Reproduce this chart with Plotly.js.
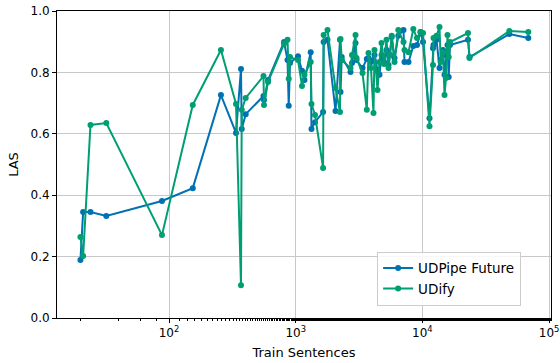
<!DOCTYPE html>
<html>
<head>
<meta charset="utf-8">
<script src="https://cdn.plot.ly/plotly-3.0.1.min.js"></script>
<style>
  html, body { margin: 0; padding: 0; background: #fff; }
  #chart { width: 560px; height: 363px; }
</style>
</head>
<body>
<div id="chart"></div>
<script>
// Training set size (sentences) per treebank, sorted ascending
const trainSentences = [
  20, 21, 24, 32, 88, 154, 257, 338, 370, 375,
  403, 557, 562, 605, 809, 862, 881, 902, 1043, 1121,
  1173, 1313, 1332, 1420, 1645, 1662, 1782, 2062, 2237, 2258,
  2308, 2707, 2782, 2965, 3020, 3368, 3640, 3754, 3929, 4111,
  4187, 4422, 4586, 4756, 4977, 5209, 5401, 5551, 5725, 6025,
  6454, 7093, 7223, 7771, 8476, 9066, 9661, 10109, 11376, 12125,
  12235, 12922, 13646, 13945, 14543, 14944, 15358, 15781, 16130, 16514,
  22898, 23533, 48522, 68543
];

// Labeled attachment score, UDPipe Future
const lasUDPipe = [
  0.189, 0.345, 0.345, 0.332, 0.381, 0.423, 0.726, 0.603, 0.811, 0.616,
  0.664, 0.723, 0.710, 0.775, 0.899, 0.840, 0.691, 0.831, 0.853, 0.805,
  0.775, 0.866, 0.616, 0.638, 0.671, 0.899, 0.906, 0.674, 0.906, 0.736,
  0.850, 0.801, 0.831, 0.896, 0.840, 0.814, 0.844, 0.847, 0.834, 0.840,
  0.857, 0.808, 0.792, 0.857, 0.834, 0.873, 0.824, 0.857, 0.915, 0.847,
  0.919, 0.938, 0.834, 0.834, 0.886, 0.889, 0.932, 0.899, 0.651, 0.879,
  0.889, 0.906, 0.814, 0.840, 0.873, 0.792, 0.857, 0.889, 0.785, 0.889,
  0.906, 0.850, 0.925, 0.912
];

// Labeled attachment score, UDify
const lasUDify = [
  0.264, 0.202, 0.629, 0.635, 0.270, 0.694, 0.873, 0.697, 0.107, 0.678,
  0.717, 0.788, 0.694, 0.769, 0.893, 0.906, 0.779, 0.850, 0.840, 0.756,
  0.792, 0.834, 0.697, 0.661, 0.489, 0.922, 0.938, 0.749, 0.671, 0.909,
  0.840, 0.814, 0.857, 0.922, 0.847, 0.798, 0.678, 0.863, 0.814, 0.668,
  0.873, 0.743, 0.834, 0.896, 0.827, 0.906, 0.814, 0.857, 0.919, 0.834,
  0.938, 0.899, 0.873, 0.866, 0.941, 0.912, 0.932, 0.928, 0.625, 0.824,
  0.912, 0.919, 0.948, 0.834, 0.866, 0.726, 0.782, 0.922, 0.850, 0.899,
  0.928, 0.847, 0.935, 0.932
];

const xTickVals = [100, 1000, 10000, 100000];
const xTickText = ['10<sup>2</sup>', '10<sup>3</sup>', '10<sup>4</sup>', '10<sup>5</sup>'];
const yTickVals = [0, 0.2, 0.4, 0.6, 0.8, 1.0];
const yTickText = ['0.0', '0.2', '0.4', '0.6', '0.8', '1.0'];

const blue = '#0072B2';
const green = '#009E73';

const traces = [
  {
    x: trainSentences, y: lasUDPipe, name: 'UDPipe Future',
    type: 'scatter', mode: 'lines+markers',
    line: { color: blue, width: 2 },
    marker: { color: blue, size: 6 }
  },
  {
    x: trainSentences, y: lasUDify, name: 'UDify',
    type: 'scatter', mode: 'lines+markers',
    line: { color: green, width: 2 },
    marker: { color: green, size: 6 }
  }
];

const family = 'DejaVu Sans, sans-serif';

const layout = {
  width: 560, height: 363,
  margin: { l: 57, r: 9, t: 11, b: 45 },
  paper_bgcolor: '#fff', plot_bgcolor: '#fff',
  font: { family: family, size: 12, color: '#000' },
  showlegend: true,
  legend: {
    x: 0.648, y: 0.216, xanchor: 'left', yanchor: 'top',
    bgcolor: 'rgba(255,255,255,0.85)', bordercolor: '#cccccc', borderwidth: 1,
    font: { family: family, size: 13.5, color: '#000' },
    itemwidth: 30, tracegroupgap: 0
  },
  xaxis: {
    type: 'log', range: [1.116, 5.015],
    tickvals: xTickVals, ticktext: xTickText,
    tickfont: { family: family, size: 12, color: '#000' },
    ticks: 'outside', ticklen: 4, tickcolor: '#000',
    showgrid: true, gridcolor: '#c8c8c8', gridwidth: 1,
    showline: true, linecolor: '#000', linewidth: 1, mirror: true,
    zeroline: false,
    minor: { ticks: 'outside', ticklen: 2, tickcolor: '#000', showgrid: false },
    title: { text: 'Train Sentences', font: { family: family, size: 13, color: '#000' }, standoff: 8 }
  },
  yaxis: {
    range: [0, 1],
    tickvals: yTickVals, ticktext: yTickText,
    tickfont: { family: family, size: 12, color: '#000' },
    ticks: 'outside', ticklen: 4, tickcolor: '#000',
    showgrid: true, gridcolor: '#c8c8c8', gridwidth: 1,
    showline: true, linecolor: '#000', linewidth: 1, mirror: true,
    zeroline: false,
    title: { text: 'LAS', font: { family: family, size: 13, color: '#000' }, standoff: 8 }
  }
};

Plotly.newPlot('chart', traces, layout, { displayModeBar: false, staticPlot: true });
</script>
</body>
</html>
